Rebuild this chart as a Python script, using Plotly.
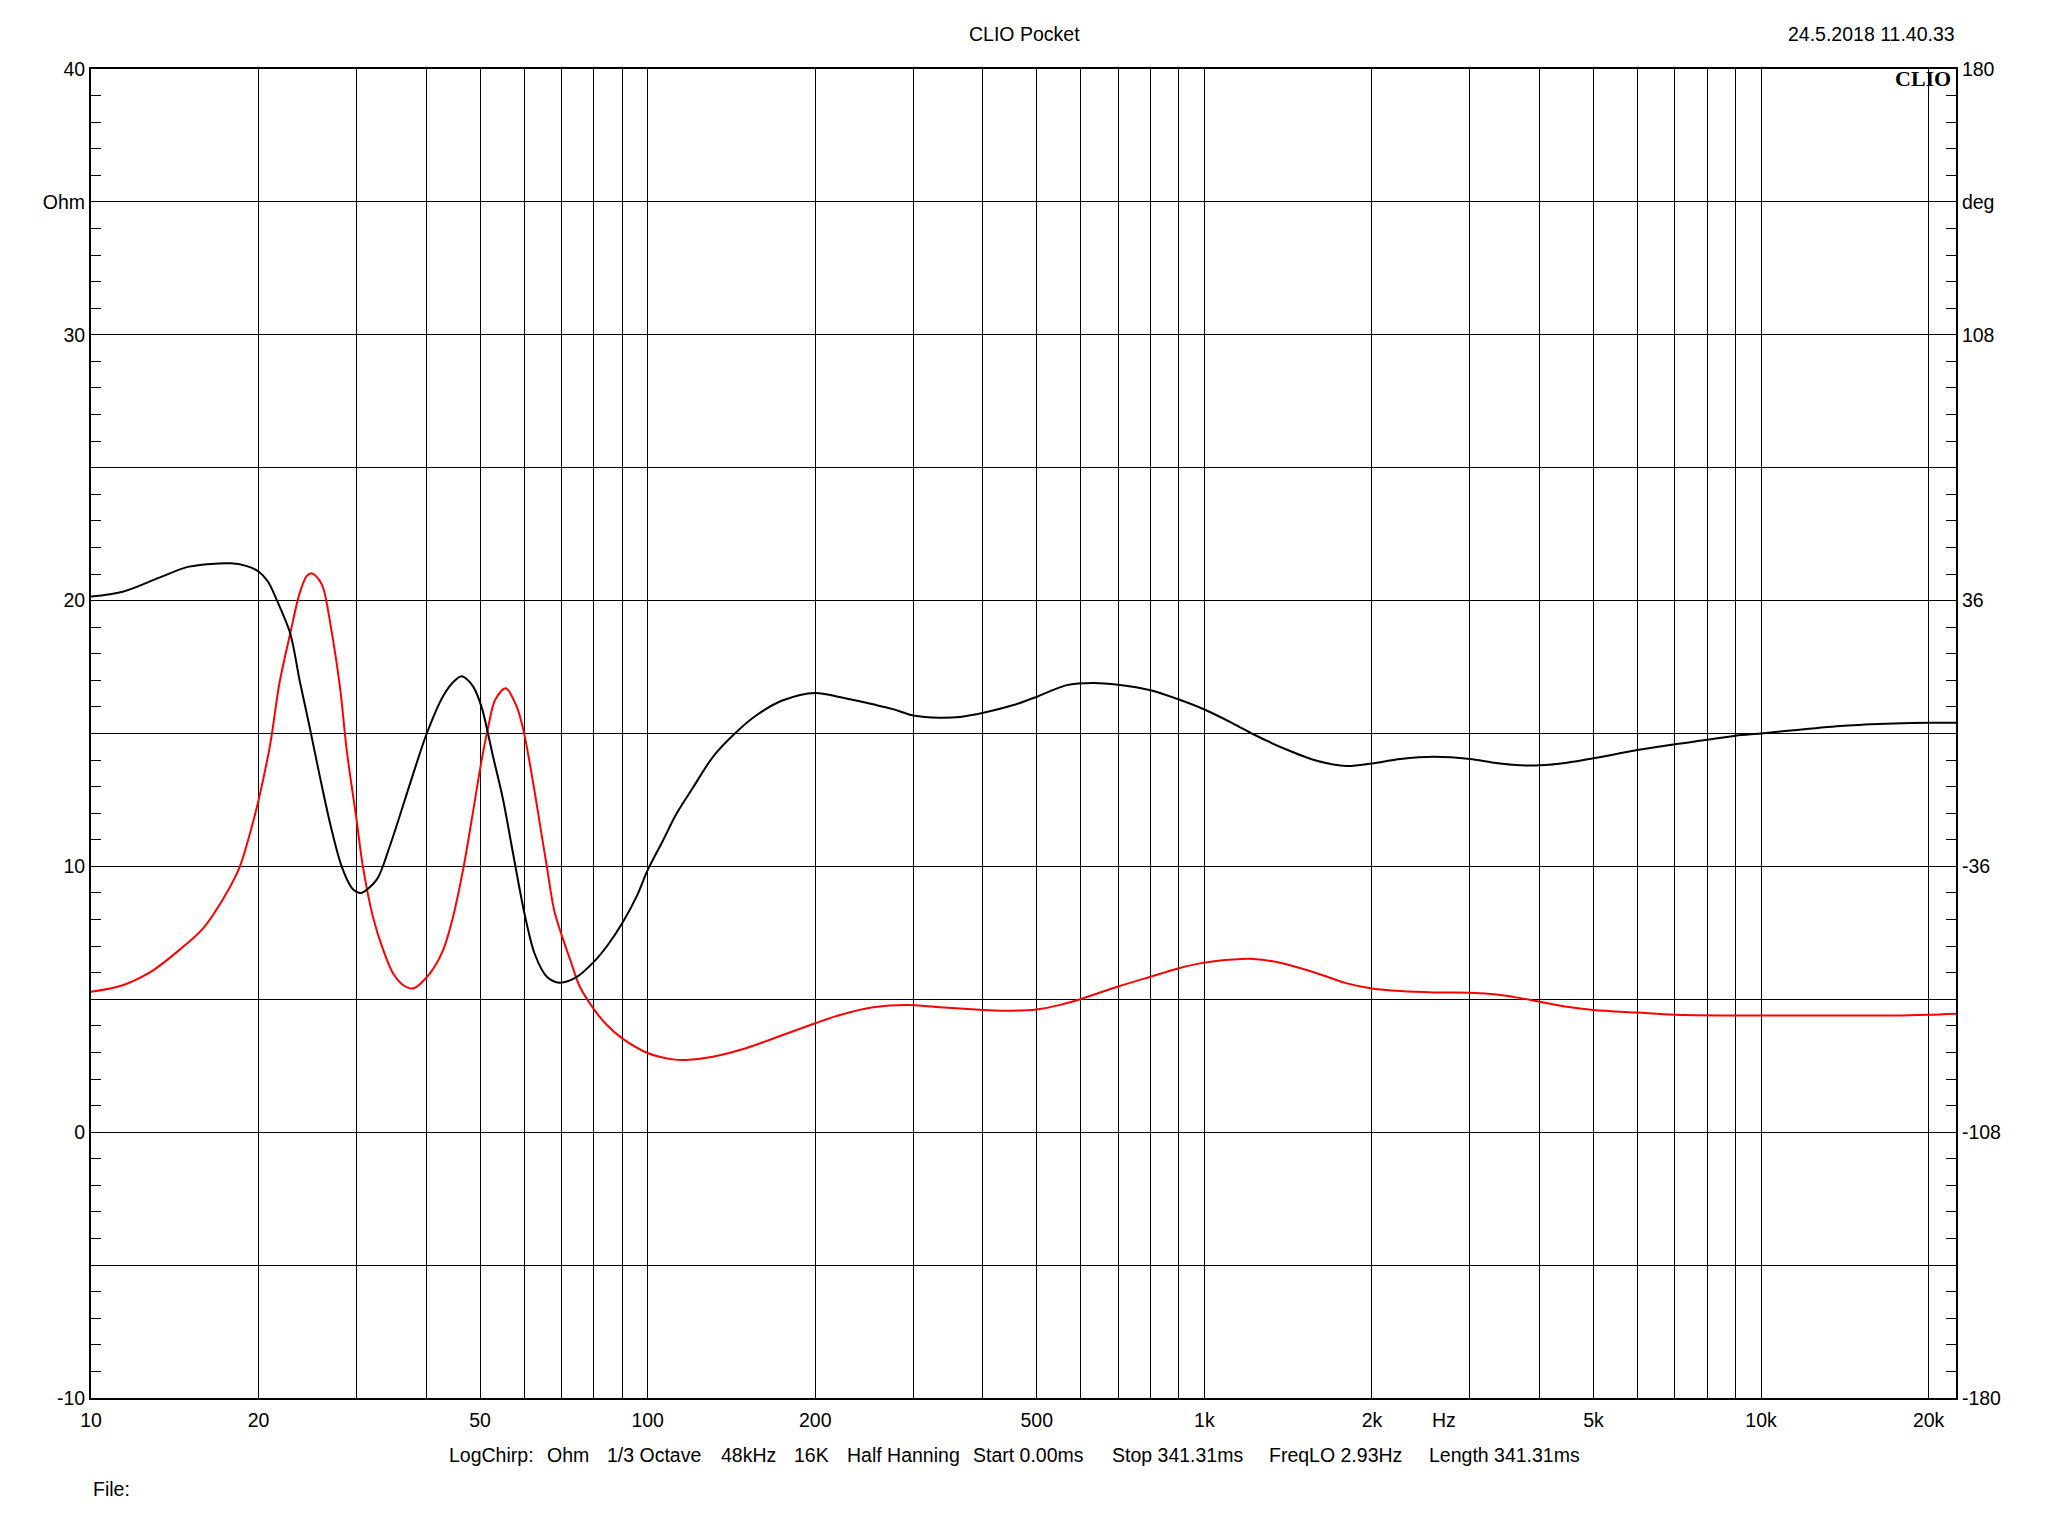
import math
import plotly.graph_objects as go

# ---------------- data ----------------
# Impedance magnitude (red), Ohm, left axis
imp_freq = [10, 11.4, 12.8, 14.4, 15.9, 17.5, 18.5, 19.3, 20.0, 21.0, 21.8, 22.8, 23.7, 24.4,
            24.9, 25.7, 26.2, 26.9, 28.0, 28.8, 30.0, 30.8, 32.1, 33.5, 34.9, 36.4, 37.9,
            40.6, 42.9, 44.7, 46.7, 48.6, 50.3, 51.7, 53.2, 55.6, 58.2, 59.8, 62.3, 64.0,
            65.9, 67.9, 69.9, 72.6, 75.5, 80.1, 84.4, 90, 100.2, 111, 117, 131, 150, 172, 200,
            221.5, 254, 292, 335, 401, 430, 500, 551, 600, 700, 800, 900, 1000, 1127, 1225,
            1387, 1592, 1803, 2000, 2250, 2583, 3000, 3380, 3700, 4000, 4480, 5000, 6000,
            7000, 9000, 11460, 17330, 20000, 22400]
imp_ohm = [5.28, 5.53, 6.03, 6.85, 7.67, 8.98, 9.98, 11.24, 12.5, 14.63, 16.89, 18.77, 20.27,
           20.92, 21.03, 20.78, 20.4, 19.15, 16.76, 14.37, 11.74, 9.98, 8.1, 6.85, 5.97, 5.53,
           5.41, 5.97, 6.85, 8.1, 9.98, 12.1, 13.98, 15.24, 16.26, 16.7, 16.0, 15.13, 13.12,
           11.62, 9.99, 8.36, 7.48, 6.48, 5.48, 4.62, 4.04, 3.53, 2.97, 2.74, 2.72, 2.84, 3.16,
           3.6, 4.1, 4.41, 4.7, 4.79, 4.7, 4.6, 4.57, 4.62, 4.79, 5.01, 5.48, 5.85, 6.17, 6.38,
           6.5, 6.52, 6.35, 5.98, 5.6, 5.41, 5.31, 5.26, 5.25, 5.17, 5.04, 4.91, 4.72, 4.6,
           4.5, 4.42, 4.39, 4.39, 4.39, 4.42, 4.46]

# Phase (black), degrees, right axis
ph_freq = [10, 11.4, 13.3, 15.0, 17.8, 19.0, 20.0, 20.8, 21.5, 22.8, 23.7, 24.7, 25.7, 26.9,
           28.2, 29.4, 30.0, 30.6, 32.6, 34.4, 37.4, 40.1, 42.9, 44.8, 46.3, 47.5, 48.6, 50.3,
           52.8, 55.0, 57.4, 60.2, 62.7, 65.9, 69.5, 74.5, 80.1, 84.4, 90, 95.5, 100, 106.6,
           112.7, 120.8, 131, 142.5, 157, 175, 200, 221, 254, 276, 300, 335, 364, 401, 454,
           503, 566, 632, 700, 800, 900, 1000, 1127, 1225, 1387, 1592, 1803, 2000, 2250,
           2583, 3000, 3313, 3700, 4000, 4480, 5000, 6000, 7000, 8000, 9000, 10000, 11460,
           14090, 17330, 20000, 22400]
ph_deg = [37.1, 38.4, 42.3, 45.2, 46.1, 45.4, 43.9, 41.1, 36.6, 27.1, 14.4, 1.8, -10.8, -24.5,
          -36.0, -41.8, -42.9, -43.2, -39.6, -30.6, -13.7, 0.0, 10.1, 14.0, 15.5, 14.5, 12.7,
          7.2, -6.5, -18.0, -33.1, -49.4, -59.8, -65.9, -67.5, -66.0, -61.8, -57.7, -51.4,
          -44.2, -37.0, -28.9, -21.7, -14.5, -6.3, -0.4, 5.0, 9.0, 11.0, 9.9, 7.9, 6.6, 4.9,
          4.3, 4.5, 5.6, 7.7, 10.1, 13.1, 13.7, 13.2, 11.7, 9.2, 6.5, 2.7, -0.2, -4.0, -7.4,
          -8.8, -8.1, -6.9, -6.3, -6.9, -7.9, -8.6, -8.6, -7.9, -6.7, -4.5, -2.9, -1.7, -0.6,
          0.0, 0.9, 2.1, 2.7, 2.9, 2.9]

# axis ticks / labels
x_grid = [10, 20, 30, 40, 50, 60, 70, 80, 90, 100, 200, 300, 400, 500, 600, 700, 800, 900,
          1000, 2000, 3000, 4000, 5000, 6000, 7000, 8000, 9000, 10000, 20000]
x_labels = {10: "10", 20: "20", 50: "50", 100: "100", 200: "200", 500: "500", 1000: "1k",
            2000: "2k", 5000: "5k", 10000: "10k", 20000: "20k"}
y_left_vals = [-10, -5, 0, 5, 10, 15, 20, 25, 30, 35, 40]
y_left_text = ["-10", "", "0", "", "10", "", "20", "", "30", "Ohm", "40"]
y_right_vals = [-180, -144, -108, -72, -36, 0, 36, 72, 108, 144, 180]
y_right_text = ["-180", "", "-108", "", "-36", "", "36", "", "108", "deg", "180"]

footer_parts = ["LogChirp:", "Ohm", "1/3 Octave", "48kHz", "16K", "Half Hanning",
                "Start 0.00ms", "Stop 341.31ms", "FreqLO 2.93Hz", "Length 341.31ms"]
footer_px = [447, 545, 605, 719, 792, 845, 971, 1110, 1267, 1427]

# ---------------- figure ----------------
W, H = 2048, 1536
L, R, T, B = 91, 1956, 69, 1398
FONT = "Arial, 'Liberation Sans', sans-serif"
FS = 19.5

fig = go.Figure()
fig.add_trace(go.Scatter(x=imp_freq, y=imp_ohm, mode="lines", yaxis="y",
                         line=dict(color="#ff0000", width=2, shape="spline", smoothing=0.9),
                         showlegend=False, hoverinfo="skip"))
fig.add_trace(go.Scatter(x=ph_freq, y=ph_deg, mode="lines", yaxis="y2",
                         line=dict(color="#000000", width=2, shape="spline", smoothing=0.9),
                         showlegend=False, hoverinfo="skip"))
# empty traces so the minor-tick overlay axes are drawn
fig.add_trace(go.Scatter(x=[], y=[], yaxis="y3", showlegend=False))
fig.add_trace(go.Scatter(x=[], y=[], yaxis="y4", showlegend=False))

def px2paper_x(px):
    return (px - L) / (R - L)

def px2paper_y(py):
    return (B - py) / (B - T)

ann = []
ann.append(dict(text="CLIO Pocket", x=px2paper_x(1024), y=px2paper_y(34), xanchor="center",
                yanchor="middle"))
ann.append(dict(text="24.5.2018 11.40.33", x=px2paper_x(1957), y=px2paper_y(34),
                xanchor="right", yanchor="middle"))
ann.append(dict(text="Hz", x=px2paper_x(1444), y=px2paper_y(1420), xanchor="center",
                yanchor="middle"))
for t, p in zip(footer_parts, footer_px):
    ann.append(dict(text=t, x=px2paper_x(p), y=px2paper_y(1455), xanchor="left",
                    yanchor="middle"))
ann.append(dict(text="File:", x=px2paper_x(91), y=px2paper_y(1489), xanchor="left",
                yanchor="middle"))
for a in ann:
    a.update(xref="paper", yref="paper", showarrow=False,
             font=dict(family=FONT, size=FS, color="#000"))
ann.append(dict(text="<b>CLIO</b>", x=px2paper_x(1953), y=px2paper_y(78), xref="paper",
                yref="paper", xanchor="right", yanchor="middle", showarrow=False,
                font=dict(family="'Liberation Serif', 'Times New Roman', serif", size=22,
                          color="#000")))

fig.update_layout(
    width=W, height=H,
    margin=dict(l=L, r=W - R, t=T, b=H - B, pad=0),
    paper_bgcolor="white", plot_bgcolor="white",
    font=dict(family=FONT, size=FS, color="#000"),
    annotations=ann,
    xaxis=dict(type="log", range=[1, math.log10(22400)],
               tickmode="array", tickvals=x_grid,
               ticktext=[x_labels.get(v, "") for v in x_grid],
               showgrid=True, gridcolor="#000", gridwidth=1,
               showline=True, linecolor="#000", linewidth=2, mirror=True,
               ticks="", zeroline=False, tickfont=dict(size=FS), ticklabelstandoff=4),
    yaxis=dict(range=[-10, 40], tickmode="array", tickvals=y_left_vals, ticktext=y_left_text,
               showgrid=True, gridcolor="#000", gridwidth=1,
               showline=True, linecolor="#000", linewidth=2, mirror=True,
               ticks="", zeroline=False, tickfont=dict(size=FS)),
    yaxis2=dict(range=[-180, 180], overlaying="y", side="right", anchor="x",
                tickmode="array", tickvals=y_right_vals, ticktext=y_right_text,
                showgrid=False, showline=True, linecolor="#000", linewidth=2,
                ticks="", zeroline=False, tickfont=dict(size=FS)),
    yaxis3=dict(range=[-10, 40], overlaying="y", side="left", anchor="x",
                tickmode="linear", tick0=-10, dtick=1, ticks="inside", ticklen=10,
                tickcolor="#000", tickwidth=1, showticklabels=False, showgrid=False,
                showline=False, zeroline=False),
    yaxis4=dict(range=[-180, 180], overlaying="y", side="right", anchor="x",
                tickmode="linear", tick0=-180, dtick=7.2, ticks="inside", ticklen=10,
                tickcolor="#000", tickwidth=1, showticklabels=False, showgrid=False,
                showline=False, zeroline=False),
)

fig.write_html("out.html", config={"displayModeBar": False},
               post_script="document.body.style.margin='0';document.body.style.overflow='hidden';")
